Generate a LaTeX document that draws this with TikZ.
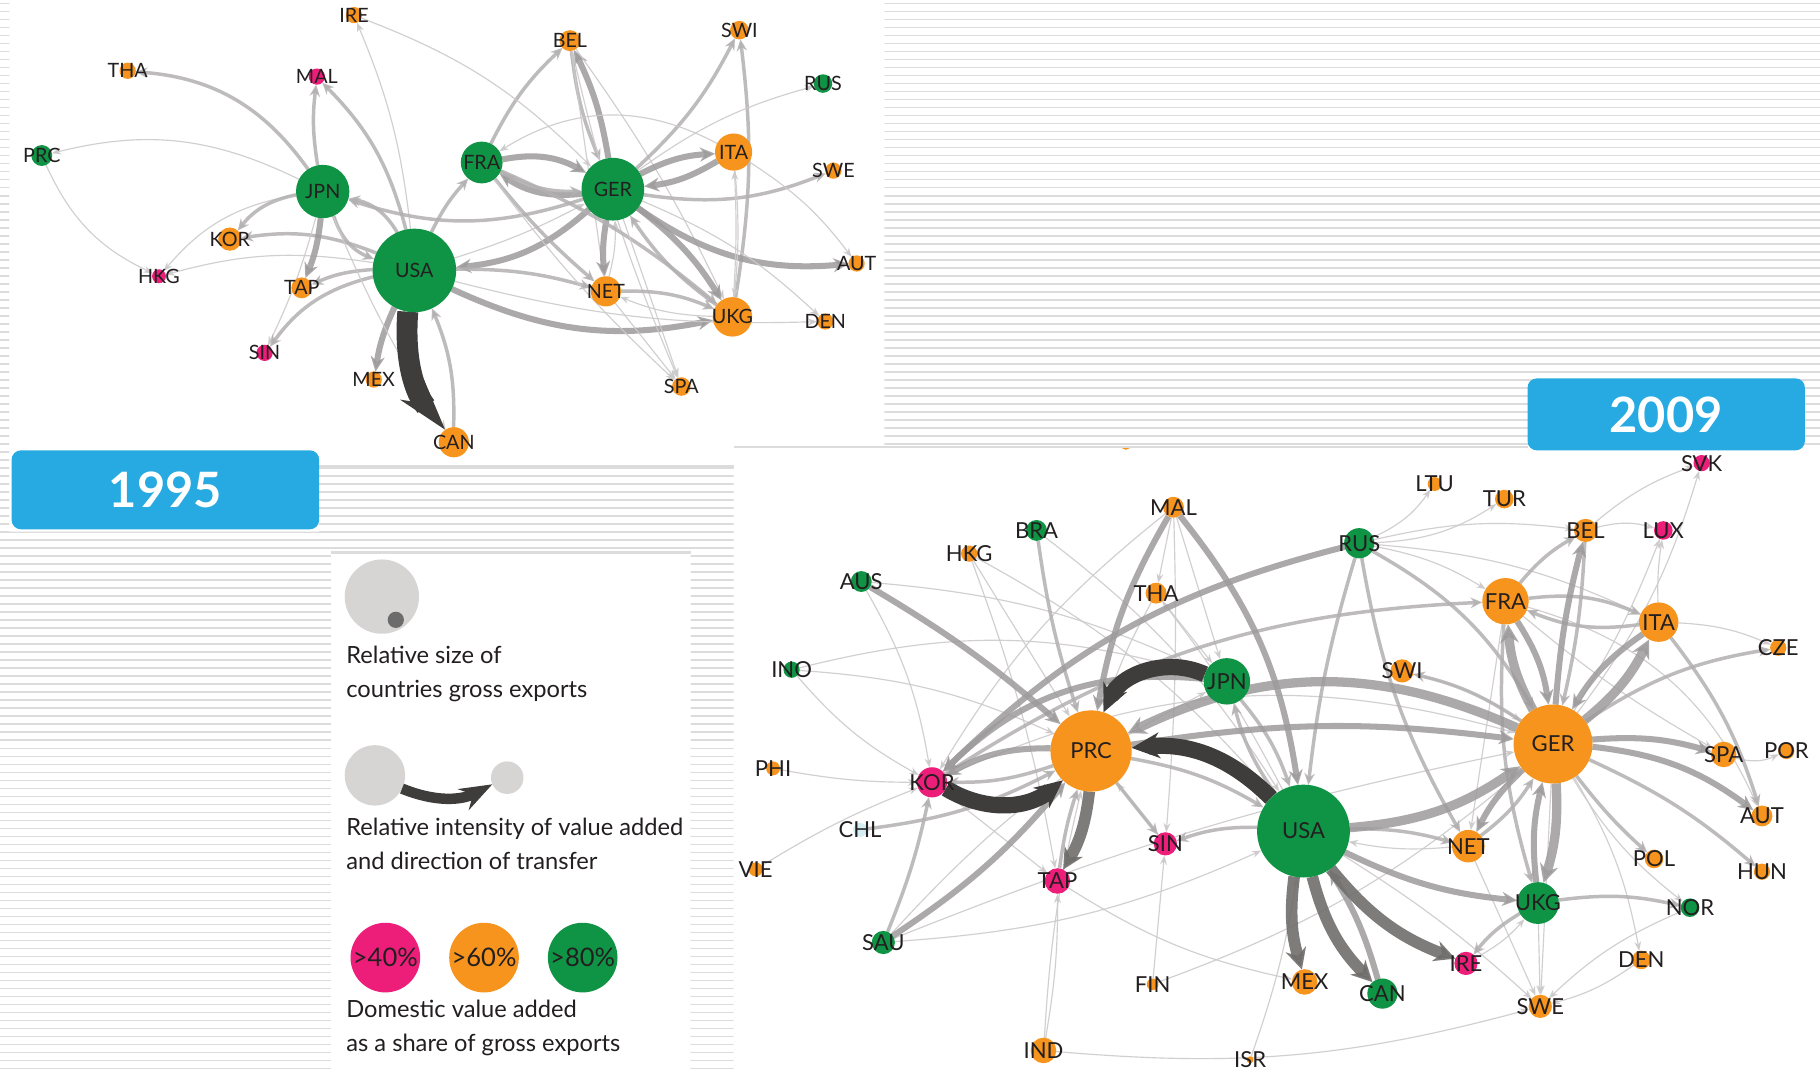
\documentclass[tikz,border=0pt]{standalone}
\usepackage{fontspec}
\setmainfont{Lato}
\usetikzlibrary{arrows.meta}
\pgfdeclarelayer{bg}
\pgfdeclarelayer{edges}
\pgfsetlayers{bg,edges,main}
\definecolor{cmag}{HTML}{EC1E79}
\definecolor{corg}{HTML}{F7941D}
\definecolor{cgrn}{HTML}{0F9445}
\definecolor{cblue}{HTML}{27AAE1}
\definecolor{cchl}{HTML}{D4EEF4}
\definecolor{stripec}{HTML}{DCDCDC}
\definecolor{ec0}{HTML}{CCCACA}
\definecolor{ec1}{HTML}{B2B0B0}
\definecolor{ec2}{HTML}{9D9B9B}
\definecolor{ec3}{HTML}{3E3D3C}
\definecolor{ec4}{HTML}{6F6E6D}
\definecolor{lgry}{HTML}{D7D4D4}
\definecolor{dgry}{HTML}{6D6C6C}
\definecolor{txt}{HTML}{231F20}
\newcommand\labfont{\fontsize{8.5}{9}\selectfont}
\newcommand\labfontb{\fontsize{9.5}{10}\selectfont}
\tikzset{
  cn/.style={circle, inner sep=0pt, outer sep=0pt, minimum size=#1pt},
  lab/.style={inner sep=0pt, text=txt, font=\labfont},
  labb/.style={inner sep=0pt, text=txt, font=\labfontb},
  e0/.style={draw=ec0, line width=0.5pt, opacity=0.9, -{Stealth[length=4pt,width=3pt]}},
  e1/.style={draw=ec1, line width=1.5pt, opacity=0.85, -{Stealth[length=5pt,width=4.5pt]}},
  e2/.style={draw=ec2, line width=2.6pt, opacity=0.85, -{Stealth[length=6.5pt,width=6pt]}},
  e2t/.style={draw=ec2, line width=4pt, opacity=0.85, -{Stealth[length=8pt,width=8pt]}},
  e4/.style={draw=ec4, line width=5pt, opacity=0.9, -{Stealth[length=9pt,width=9pt]}},
  e3/.style={draw=ec3, line width=7pt, -{Stealth[length=12pt,width=11pt]}},
  e3big/.style={draw=ec3, line width=9pt, -{Stealth[length=22pt,width=13pt]}},
  stripe/.style={draw=stripec, line width=0.7pt},
  yearbox/.style={fill=cblue, rounded corners=4pt, text=white, inner sep=0pt,
     font=\fontsize{21}{21}\selectfont\bfseries},
  legtxt/.style={anchor=base west, inner sep=0pt, text=txt, font=\fontsize{10.2}{12}\selectfont},
  pct/.style={text=txt, font=\fontsize{11}{11}\selectfont},
}
\newcommand\cty[5]{\node[cn=#4, fill=#3, label={[lab]center:#5}] (#1) at (#2) {};}
\newcommand\ctyb[5]{\node[cn=#4, fill=#3, label={[labb]center:#5}] (#1) at (#2) {};}
\begin{document}
\begin{tikzpicture}[x=0.5pt, y=-0.5pt]
\useasboundingbox (0,0) rectangle (1568,925);
\begin{pgfonlayer}{bg}
\fill[white] (0,0) rectangle (1568,925);
\begin{scope}
\clip (0,0) rectangle (8,470) (762,0) rectangle (1568,384) (275,402) rectangle (632,477)
      (0,458) rectangle (285,925) (595,477) rectangle (632,925);
\foreach \yy in {3,9.9,...,925} \draw[stripe] (0,\yy) -- (1568,\yy);
\end{scope}
\draw[draw=stripec, line width=1pt] (632,385) -- (1316,385);
\draw[draw=stripec, line width=1pt] (275,402) -- (632,402);
\draw[draw=stripec, line width=1pt] (285,476) -- (595,476);
\begin{scope}
\clip (632,386) rectangle (1316,925);
\fill[corg] (970,383) circle (4.5);
\end{scope}
\end{pgfonlayer}

% ---------------- 1995 ----------------
\cty{IRE95}{305,13}{corg}{7}{IRE}
\cty{BEL95}{491,35}{corg}{9}{BEL}
\cty{SWI95}{637,26}{corg}{8}{SWI}
\cty{THA95}{110,61}{corg}{7}{THA}
\cty{MAL95}{273,66}{cmag}{7}{MAL}
\cty{RUS95}{709,72}{cgrn}{8}{RUS}
\cty{PRC95}{36,134}{cgrn}{9}{PRC}
\cty{ITA95}{632,131}{corg}{16}{ITA}
\cty{FRA95}{415,140}{cgrn}{18}{FRA}
\cty{GER95}{528,163}{cgrn}{27}{GER}
\cty{JPN95}{278,165}{cgrn}{23}{JPN}
\cty{SWE95}{718,147}{corg}{7}{SWE}
\cty{KOR95}{198,206}{corg}{10}{KOR}
\cty{USA95}{357,233}{cgrn}{36}{USA}
\cty{HKG95}{137,238}{cmag}{6}{HKG}
\cty{AUT95}{738,227}{corg}{7}{AUT}
\cty{TAP95}{260,248}{corg}{9}{TAP}
\cty{NET95}{522,251}{corg}{13}{NET}
\cty{UKG95}{631,273}{corg}{17}{UKG}
\cty{DEN95}{711,277}{corg}{7}{DEN}
\cty{SIN95}{228,304}{cmag}{7}{SIN}
\cty{MEX95}{322,327}{corg}{7}{MEX}
\cty{SPA95}{587,333}{corg}{8}{SPA}
\cty{CAN95}{391,381}{corg}{13}{CAN}

\begin{pgfonlayer}{edges}
\draw[e1] (JPN95) to[bend right=25] (THA95);
\draw[e1] (JPN95) to[bend left=8] (MAL95);
\draw[e1] (USA95) to[bend right=15] (MAL95);
\draw[e0] (USA95) to[bend right=8] (IRE95);
\draw[e0] (JPN95) to[bend right=20] (PRC95);
\draw[e0] (PRC95) to[bend right=20] (HKG95);
\draw[e0] (JPN95) to[bend right=20] (HKG95);
\draw[e0] (USA95) to[bend right=12] (HKG95);
\draw[e1] (JPN95) to[bend right=20] (KOR95);
\draw[e1] (USA95) to[bend right=15] (KOR95);
\draw[e2] (JPN95) to[bend left=8] (TAP95);
\draw[e1] (USA95) to[bend right=10] (TAP95);
\draw[e0] (JPN95) to[bend left=5] (SIN95);
\draw[e1] (USA95) to[bend right=20] (SIN95);
\draw[e1] (JPN95) to[bend right=25] (USA95);
\draw[e1] (USA95) to[bend right=25] (JPN95);
\draw[e1] (GER95) to[bend left=18] (JPN95);
\draw[e2] (USA95) to[bend right=8] (MEX95);
\draw[e0] (JPN95) to[bend right=5] (CAN95);
\draw[e1] (CAN95) to[bend right=12] (USA95);
\draw[e1] (USA95) to[bend left=8] (FRA95);
\draw[e2] (GER95) to[bend left=18] (USA95);
\draw[e1] (USA95) to[bend left=8] (NET95);
\draw[e2] (USA95) to[bend right=18] (UKG95);
\draw[e0] (USA95) to[bend right=5] (GER95);
\draw[e2] (FRA95) to[bend left=20] (GER95);
\draw[e2] (GER95) to[bend left=20] (FRA95);
\draw[e1] (FRA95) to[bend right=15] (GER95);
\draw[e1] (FRA95) to[bend left=10] (BEL95);
\draw[e2] (GER95) to[bend right=8] (BEL95);
\draw[e1] (BEL95) to[bend right=8] (GER95);
\draw[e0] (BEL95) to (NET95);
\draw[e0] (BEL95) to[bend left=5] (UKG95);
\draw[e0] (BEL95) to[bend right=5] (SPA95);
\draw[e2] (GER95) to[bend left=12] (ITA95);
\draw[e2] (ITA95) to[bend left=12] (GER95);
\draw[e1] (GER95) to[bend right=10] (SWI95);
\draw[e1] (UKG95) to[bend right=8] (SWI95);
\draw[e0] (GER95) to[bend left=10] (RUS95);
\draw[e1] (GER95) to[bend right=15] (SWE95);
\draw[e2] (GER95) to[bend right=20] (AUT95);
\draw[e2] (GER95) to[bend right=8] (NET95);
\draw[e0] (NET95) to[bend right=8] (GER95);
\draw[e2] (GER95) to[bend left=10] (UKG95);
\draw[e1] (UKG95) to[bend left=10] (GER95);
\draw[e1] (FRA95) to[bend right=5] (NET95);
\draw[e1] (FRA95) to[bend left=8] (UKG95);
\draw[e0] (FRA95) to[bend right=5] (SPA95);
\draw[e0] (GER95) to (SPA95);
\draw[e0] (NET95) to (SPA95);
\draw[e0] (ITA95) to[bend left=5] (UKG95);
\draw[e0] (ITA95) to[bend right=30] (FRA95);
\draw[e0] (GER95) to[bend left=10] (DEN95);
\draw[e0] (USA95) to[bend right=8] (DEN95);
\draw[e0] (IRE95) to[bend left=12] (GER95);
\draw[e1] (NET95) to[bend left=12] (UKG95);
\draw[e0] (UKG95) to[bend left=10] (NET95);
\draw[e0] (UKG95) to[bend right=3] (ITA95);
\draw[e0] (ITA95) to[bend left=10] (AUT95);
\draw[e3big] (USA95) to[bend right=22] (CAN95);
\end{pgfonlayer}

% ---------------- 2009 ----------------
\ctyb{SVK09}{1466,399}{cmag}{7}{SVK}
\ctyb{LTU09}{1236,417}{corg}{6}{LTU}
\ctyb{TUR09}{1296,430}{corg}{8}{TUR}
\ctyb{MAL09}{1011,437}{corg}{9}{MAL}
\ctyb{BRA09}{893,457}{cgrn}{9}{BRA}
\ctyb{BEL09}{1366,457}{corg}{10}{BEL}
\ctyb{LUX09}{1433,457}{cmag}{8}{LUX}
\ctyb{RUS09}{1171,468}{cgrn}{13}{RUS}
\ctyb{HKG09}{835,477}{corg}{7}{HKG}
\ctyb{AUS09}{742,501}{cgrn}{9}{AUS}
\ctyb{THA09}{996,511}{corg}{9}{THA}
\ctyb{FRA09}{1297,518}{corg}{20}{FRA}
\ctyb{ITA09}{1429,536}{corg}{17}{ITA}
\ctyb{CZE09}{1532,558}{corg}{7}{CZE}
\ctyb{INO09}{682,577}{cgrn}{7}{INO}
\ctyb{SWI09}{1208,578}{corg}{10}{SWI}
\ctyb{JPN09}{1057,587}{cgrn}{20}{JPN}
\ctyb{PRC09}{940,647}{corg}{35}{PRC}
\ctyb{GER09}{1338,641}{corg}{34}{GER}
\ctyb{SPA09}{1485,650}{corg}{11}{SPA}
\ctyb{POR09}{1539,647}{corg}{7}{POR}
\ctyb{PHI09}{666,662}{corg}{6}{PHI}
\ctyb{KOR09}{803,674}{cmag}{13}{KOR}
\ctyb{USA09}{1123,716}{cgrn}{40}{USA}
\ctyb{AUT09}{1518,703}{corg}{9}{AUT}
\ctyb{CHL09}{741,715}{cchl}{6}{CHL}
\ctyb{SIN09}{1004,727}{cmag}{10}{SIN}
\ctyb{NET09}{1265,729}{corg}{14}{NET}
\ctyb{POL09}{1425,740}{corg}{8}{POL}
\ctyb{VIE09}{651,749}{corg}{6}{VIE}
\ctyb{HUN09}{1518,751}{corg}{7}{HUN}
\ctyb{TAP09}{911,759}{cmag}{11}{TAP}
\ctyb{UKG09}{1325,778}{cgrn}{18}{UKG}
\ctyb{NOR09}{1456,782}{cgrn}{8}{NOR}
\ctyb{SAU09}{761,812}{cgrn}{10}{SAU}
\ctyb{IRE09}{1263,830}{cmag}{10}{IRE}
\ctyb{DEN09}{1414,827}{corg}{8}{DEN}
\ctyb{FIN09}{993,848}{corg}{5}{FIN}
\ctyb{MEX09}{1124,846}{corg}{11}{MEX}
\ctyb{CAN09}{1191,856}{cgrn}{13}{CAN}
\ctyb{SWE09}{1327,867}{corg}{10}{SWE}
\ctyb{IND09}{899,905}{corg}{11}{IND}
\ctyb{ISR09}{1077,913}{corg}{3}{ISR}

\begin{pgfonlayer}{edges}
\draw[e0] (MAL09) to (JPN09);
\draw[e0] (MAL09) to (THA09);
\draw[e0] (MAL09) to[bend left=3] (SIN09);
\draw[e0] (MAL09) to[bend right=10] (KOR09);
\draw[e0] (THA09) to (JPN09);
\draw[e0] (THA09) to[bend right=5] (PRC09);
\draw[e0] (HKG09) to (PRC09);
\draw[e0] (HKG09) to[bend left=5] (TAP09);
\draw[e0] (INO09) to[bend right=10] (KOR09);
\draw[e0] (INO09) to[bend left=10] (PRC09);
\draw[e0] (INO09) to[bend left=15] (JPN09);
\draw[e0] (PHI09) to[bend right=5] (KOR09);
\draw[e0] (VIE09) to[bend left=5] (KOR09);
\draw[e0] (IND09) to[bend left=5] (PRC09);
\draw[e0] (IND09) to[bend right=5] (TAP09);
\draw[e0] (IND09) to[bend right=10] (SWE09);
\draw[e0] (ISR09) to[bend right=5] (USA09);
\draw[e0] (FIN09) to (SIN09);
\draw[e0] (FIN09) to[bend right=10] (GER09);
\draw[e0] (SAU09) to[bend right=10] (USA09);
\draw[e0] (SAU09) to[bend left=10] (JPN09);
\draw[e0] (SIN09) to (PRC09);
\draw[e0] (KOR09) to (TAP09);
\draw[e0] (TAP09) to[bend right=10] (MEX09);
\draw[e0] (NET09) to[bend left=8] (USA09);
\draw[e0] (GER09) to[bend right=10] (NOR09);
\draw[e0] (GER09) to (SWE09);
\draw[e0] (GER09) to[bend left=10] (DEN09);
\draw[e0] (SWI09) to[bend left=10] (GER09);
\draw[e0] (RUS09) to[bend left=10] (FRA09);
\draw[e0] (RUS09) to[bend left=10] (ITA09);
\draw[e0] (RUS09) to[bend left=10] (BEL09);
\draw[e0] (RUS09) to[bend right=15] (TUR09);
\draw[e0] (RUS09) to[bend right=15] (LTU09);
\draw[e0] (GER09) to[bend right=10] (SVK09);
\draw[e0] (BEL09) to[bend left=10] (SVK09);
\draw[e0] (FRA09) to[bend right=5] (SPA09);
\draw[e0] (FRA09) to (NET09);
\draw[e0] (ITA09) to[bend left=5] (LUX09);
\draw[e0] (BEL09) to[bend left=15] (LUX09);
\draw[e0] (GER09) to[bend right=5] (LUX09);
\draw[e0] (IRE09) to[bend right=10] (UKG09);
\draw[e0] (NET09) to (SWE09);
\draw[e0] (UKG09) to (SWE09);
\draw[e0] (DEN09) to[bend left=10] (SWE09);
\draw[e0] (NOR09) to[bend right=10] (SWE09);
\draw[e0] (SPA09) to[bend right=20] (POR09);
\draw[e0] (ITA09) to[bend left=10] (CZE09);
\draw[e0] (FRA09) to[bend left=25] (AUT09);
\draw[e0] (AUS09) to[bend left=10] (KOR09);
\draw[e0] (AUS09) to[bend left=10] (JPN09);
\draw[e0] (USA09) to[bend left=5] (SWE09);
\draw[e0] (USA09) to[bend right=5] (THA09);
\draw[e0] (KOR09) to[bend left=20] (GER09);
\draw[e0] (HKG09) to[bend left=10] (USA09);
\draw[e0] (BRA09) to[bend left=10] (USA09);
\draw[e0] (SAU09) to[bend left=5] (GER09);
\draw[e1] (SAU09) to[bend right=5] (KOR09);
\draw[e1] (BRA09) to[bend right=5] (PRC09);
\draw[e1] (CHL09) to[bend right=10] (PRC09);
\draw[e1] (PRC09) to[bend left=10] (KOR09);
\draw[e1] (JPN09) to[bend left=10] (USA09);
\draw[e1] (USA09) to[bend left=10] (JPN09);
\draw[e1] (USA09) to[bend right=10] (SIN09);
\draw[e1] (TAP09) to[bend left=5] (PRC09);
\draw[e1] (PRC09) to (SIN09);
\draw[e1] (USA09) to[bend left=8] (NET09);
\draw[e1] (GER09) to[bend right=5] (POL09);
\draw[e1] (GER09) to[bend left=12] (CZE09);
\draw[e1] (GER09) to[bend left=8] (HUN09);
\draw[e1] (NET09) to[bend right=10] (GER09);
\draw[e1] (GER09) to[bend right=10] (SWI09);
\draw[e1] (RUS09) to[bend left=15] (GER09);
\draw[e1] (RUS09) to[bend right=10] (NET09);
\draw[e1] (RUS09) to[bend right=5] (USA09);
\draw[e1] (FRA09) to[bend left=10] (BEL09);
\draw[e1] (FRA09) to[bend left=15] (ITA09);
\draw[e1] (ITA09) to[bend left=15] (FRA09);
\draw[e1] (FRA09) to[bend right=10] (UKG09);
\draw[e1] (UKG09) to[bend right=10] (IRE09);
\draw[e1] (UKG09) to[bend left=10] (NOR09);
\draw[e1] (PRC09) to[bend left=10] (USA09);
\draw[e1] (ITA09) to[bend left=10] (AUT09);
\draw[e1] (KOR09) to[bend left=15] (FRA09);
\draw[e1] (BEL09) to[bend left=5] (GER09);
\draw[e2] (CAN09) to[bend right=8] (USA09);
\draw[e2] (PRC09) to[bend left=8] (GER09);
\draw[e2] (RUS09) to[bend right=15] (KOR09);
\draw[e2] (AUS09) to[bend left=5] (PRC09);
\draw[e2] (SAU09) to[bend right=8] (PRC09);
\draw[e2] (MAL09) to[bend right=10] (PRC09);
\draw[e2] (MAL09) to[bend left=15] (USA09);
\draw[e2] (PRC09) to[bend right=15] (KOR09);
\draw[e2] (JPN09) to[bend right=25] (KOR09);
\draw[e2] (USA09) to[bend right=10] (UKG09);
\draw[e2] (FRA09) to[bend left=12] (GER09);
\draw[e2] (ITA09) to[bend right=12] (GER09);
\draw[e2] (GER09) to[bend left=5] (BEL09);
\draw[e2] (GER09) to[bend left=10] (SPA09);
\draw[e2] (GER09) to[bend left=15] (AUT09);
\draw[e2] (UKG09) to[bend left=10] (GER09);
\draw[e2] (GER09) to[bend right=10] (NET09);
\draw[e2t] (USA09) to[bend right=15] (GER09);
\draw[e2t] (GER09) to[bend right=25] (PRC09);
\draw[e2t] (GER09) to[bend left=12] (FRA09);
\draw[e2t] (GER09) to[bend right=12] (ITA09);
\draw[e2t] (GER09) to[bend left=10] (UKG09);
\draw[e4] (PRC09) to[bend left=12] (TAP09);
\draw[e4] (USA09) to[bend right=12] (MEX09);
\draw[e4] (USA09) to[bend right=15] (CAN09);
\draw[e4] (USA09) to[bend right=15] (IRE09);
\draw[e3] (JPN09) to[bend right=45] (PRC09);
\draw[e3] (USA09) to[bend right=25] (PRC09);
\draw[e3] (KOR09) to[bend right=35] (PRC09);
\end{pgfonlayer}

% ---------------- year labels ----------------
\node[yearbox, minimum width=132.5pt, minimum height=34pt] (y95) at (142.5,422) {1995};
\node[yearbox, minimum width=119.5pt, minimum height=31pt] (y09) at (1435.5,357) {2009};

% ---------------- legend ----------------
\node[cn=32, fill=lgry] (lg1) at (329,514) {};
\node[cn=7, fill=dgry] (lg1d) at (341,534) {};
\node[legtxt] (lt1a) at (298,572) {Relative size of};
\node[legtxt] (lt1b) at (298,601) {countries gross exports};
\node[cn=26, fill=lgry] (lg2a) at (323,668) {};
\node[cn=14, fill=lgry] (lg2b) at (437,670) {};
\draw[draw=ec3, line width=4.5pt, -{Stealth[length=14pt,width=10pt]}] (lg2a) to[bend right=25] (lg2b);
\node[legtxt] (lt2a) at (298,720) {Relative intensity of value added};
\node[legtxt] (lt2b) at (298,749) {and direction of transfer};
\node[cn=30, fill=cmag, pct] (p40) at (332,825) {>40\%};
\node[cn=30, fill=corg, pct] (p60) at (417,825) {>60\%};
\node[cn=30, fill=cgrn, pct] (p80) at (502,825) {>80\%};
\node[legtxt] (lt3a) at (298,877) {Domestic value added};
\node[legtxt] (lt3b) at (298,906) {as a share of gross exports};
\end{tikzpicture}
\end{document}
